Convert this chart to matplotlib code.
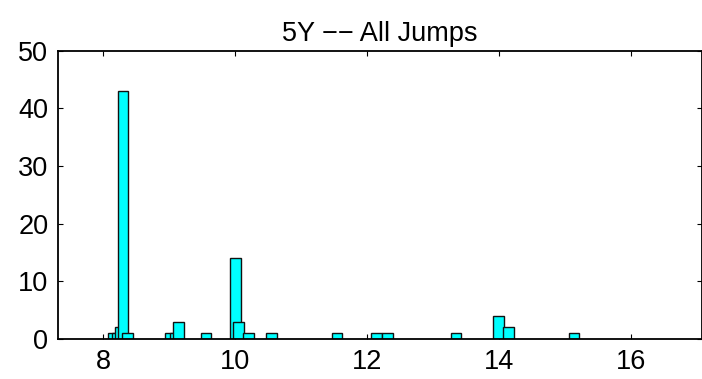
import matplotlib
matplotlib.use("Agg")
import matplotlib.pyplot as plt

# Data (bar centers and counts)
centers = [8.155, 8.216, 8.261, 8.303, 8.371,
           9.019, 9.095, 9.144, 9.56,
           10.005, 10.05, 10.20, 10.55,
           11.545, 12.144, 12.303,
           13.341, 13.985, 14.136, 15.129]
counts = [1, 1, 2, 43, 1,
          1, 1, 3, 1,
          14, 3, 1, 1,
          1, 1, 1,
          1, 4, 2, 1]
xticks = [8, 10, 12, 14, 16]
yticks = [0, 10, 20, 30, 40, 50]
title = "5Y \u2212\u2212 All Jumps"

plt.rcParams['font.family'] = ['Liberation Sans', 'DejaVu Sans']

fig = plt.figure(figsize=(7.02, 3.79), dpi=100)
ax = fig.add_axes([58/702, 1-339/379, (701.5-58)/702, (339-50.7)/379])

for c, h in zip(centers, counts):
    ax.bar(c, h, width=0.16, color='#00ffff', edgecolor='#111111',
           linewidth=1.0, align='center', zorder=2)

ax.set_xlim(7.318, 17.06)
ax.set_ylim(0, 50)
ax.set_xticks(xticks)
ax.set_yticks(yticks)
ax.tick_params(direction='in', length=3.8, width=0.8, top=True, right=True,
               labelsize=19.5, pad=7, zorder=3)
for s in ax.spines.values():
    s.set_linewidth(1.3)
    s.set_zorder(4)
ax.set_title(title, fontsize=19.5, pad=7)

fig.savefig("out.png", dpi=100)
